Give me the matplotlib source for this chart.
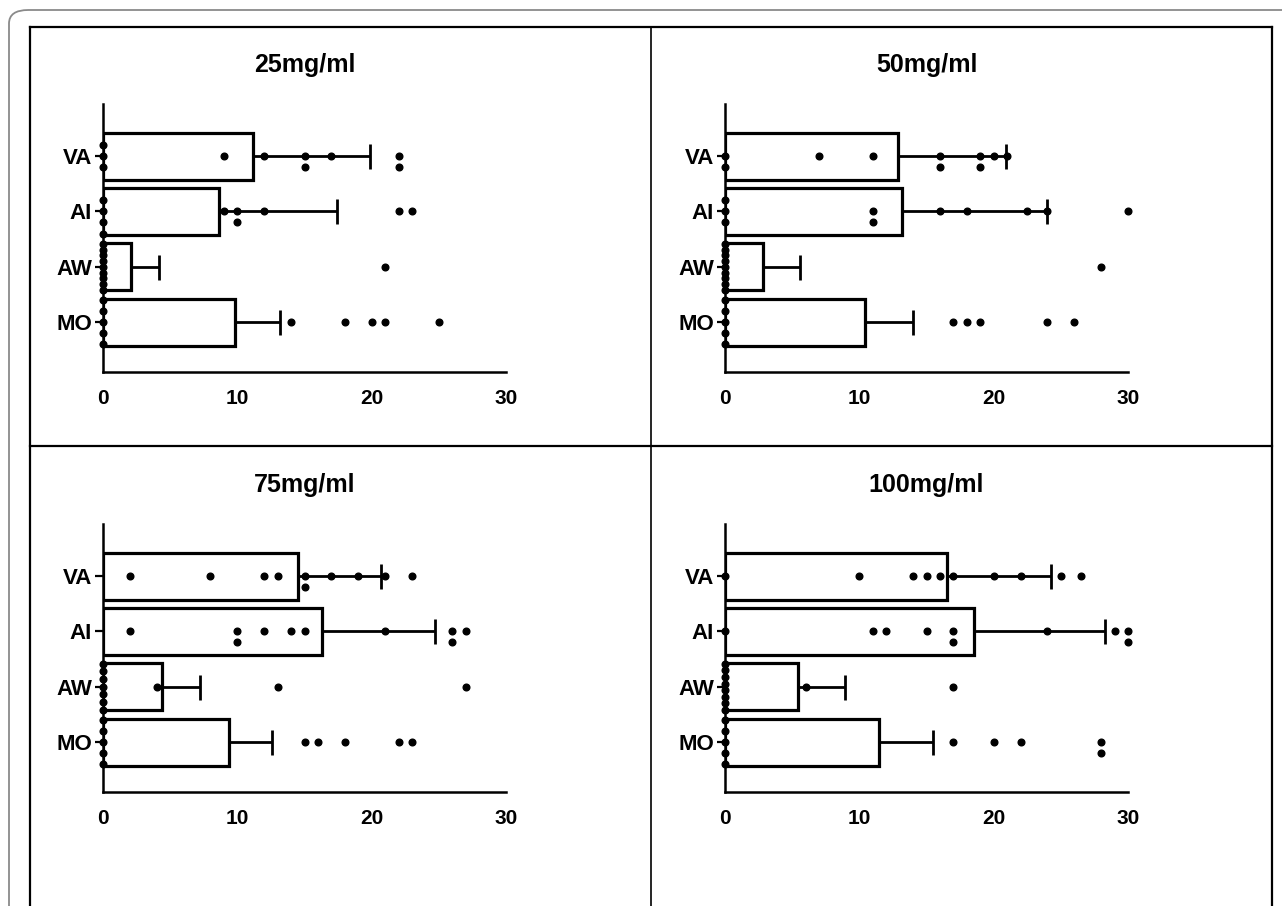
import matplotlib
matplotlib.use("Agg")
import matplotlib.pyplot as plt
import numpy as np
from matplotlib.lines import Line2D
from matplotlib.patches import FancyBboxPatch

plt.rcParams['font.family'] = ['Liberation Sans', 'DejaVu Sans']
plt.rcParams['font.weight'] = 'bold'

# categories, top to bottom
groups = ["VA", "AI", "AW", "MO"]
titles = ["25mg/ml", "50mg/ml", "75mg/ml", "100mg/ml"]

# individual points
va_25 = [0, 0, 0, 9, 12, 15, 15, 17, 22, 22]
ai_25 = [0, 0, 0, 0, 9, 10, 10, 12, 22, 23]
aw_25 = [0, 0, 0, 0, 0, 0, 0, 0, 0, 21]
mo_25 = [0, 0, 0, 0, 0, 14, 18, 20, 21, 25]

va_50 = [0, 0, 7, 11, 16, 16, 19, 19, 20, 21]
ai_50 = [0, 0, 0, 11, 11, 16, 18, 22.5, 24, 30]
aw_50 = [0, 0, 0, 0, 0, 0, 0, 0, 0, 28]
mo_50 = [0, 0, 0, 0, 0, 17, 18, 19, 24, 26]

va_75 = [2, 8, 12, 13, 15, 15, 17, 19, 21, 23]
ai_75 = [2, 10, 10, 12, 14, 15, 21, 26, 26, 27]
aw_75 = [0, 0, 0, 0, 0, 0, 0, 4, 13, 27]
mo_75 = [0, 0, 0, 0, 0, 15, 16, 18, 22, 23]

va_100 = [0, 10, 14, 15, 16, 17, 20, 22, 25, 26.5]
ai_100 = [0, 11, 12, 15, 17, 17, 24, 29, 30, 30]
aw_100 = [0, 0, 0, 0, 0, 0, 0, 0, 6, 17]
mo_100 = [0, 0, 0, 0, 0, 17, 20, 22, 28, 28]

# bar values and error bars (VA, AI, AW, MO)
bar_25 = [11.2, 8.6, 2.1, 9.8]
err_25 = [8.7, 8.8, 2.1, 3.4]
bar_50 = [12.9, 13.2, 2.8, 10.4]
err_50 = [8.0, 10.8, 2.8, 3.6]
bar_75 = [14.5, 16.3, 4.4, 9.4]
err_75 = [6.2, 8.4, 2.8, 3.2]
bar_100 = [16.5, 18.5, 5.4, 11.5]
err_100 = [7.8, 9.8, 3.5, 4.0]

points = [[va_25, ai_25, aw_25, mo_25],
          [va_50, ai_50, aw_50, mo_50],
          [va_75, ai_75, aw_75, mo_75],
          [va_100, ai_100, aw_100, mo_100]]
bars = [bar_25, bar_50, bar_75, bar_100]
errs = [err_25, err_50, err_75, err_100]


def swarm(vals, step=0.2, span=0.83):
    # stack equal values vertically, squeeze if too many
    vals = np.asarray(vals, float)
    off = np.zeros(len(vals))
    for v in np.unique(vals):
        idx = np.where(vals == v)[0]
        k = len(idx)
        if k == 1:
            continue
        s = min(step, span / (k - 1))
        if k % 2 == 1 or k > 4:
            rows = np.arange(k) - (k - 1) / 2
        else:
            rows = np.arange(k) - k / 2
        off[idx] = rows * s
    return off


W, H = 1282, 906
fig = plt.figure(figsize=(W / 100, H / 100), dpi=100)

lefts = [103, 725, 103, 725]
tops = [104, 104, 524, 524]
aw_px, ah_px = 403, 268

ypos = np.array([3, 2, 1, 0])
for i in range(4):
    ax = fig.add_axes([lefts[i] / W, 1 - (tops[i] + ah_px) / H, aw_px / W, ah_px / H])
    ax.barh(ypos, bars[i], height=0.85, color="white", edgecolor="black",
            linewidth=2.3, zorder=2)
    ax.errorbar(bars[i], ypos, xerr=[np.zeros(4), errs[i]], fmt="none",
                ecolor="black", elinewidth=2.0, capsize=9, capthick=2.0, zorder=3)
    for j in range(4):
        vals = points[i][j]
        ax.plot(vals, ypos[j] + swarm(vals), "o", color="black", ms=4.8,
                mec="black", zorder=4, clip_on=False)
    ax.set_xlim(0, 30)
    ax.set_ylim(-0.9, 3.94)
    ax.set_xticks([0, 10, 20, 30])
    ax.set_yticks(ypos)
    ax.set_yticklabels(groups)
    ax.tick_params(axis="x", length=0, pad=12, labelsize=15)
    ax.tick_params(axis="y", length=6, width=1.6, pad=2, labelsize=16)
    for sp in ["top", "right"]:
        ax.spines[sp].set_visible(False)
    ax.spines["left"].set_linewidth(1.8)
    ax.spines["bottom"].set_linewidth(1.8)
    ax.set_title(titles[i], fontsize=18, fontweight="bold", pad=23)

# table frame around the panels
fig.add_artist(FancyBboxPatch((9 / W, -0.05), 1.1, 1 - 10 / H + 0.05,
                              boxstyle="round,pad=0,rounding_size=0.015",
                              transform=fig.transFigure, fill=False,
                              edgecolor="#8a8a8a", linewidth=1.3))
lw = 1.6
fig.add_artist(Line2D([30 / W, 30 / W], [0, 1 - 27 / H], transform=fig.transFigure,
                      color="black", lw=lw))
fig.add_artist(Line2D([651 / W, 651 / W], [0, 1 - 27 / H], transform=fig.transFigure,
                      color="black", lw=1.2))
fig.add_artist(Line2D([1272 / W, 1272 / W], [0, 1 - 27 / H], transform=fig.transFigure,
                      color="black", lw=lw))
fig.add_artist(Line2D([30 / W, 1272 / W], [1 - 27 / H, 1 - 27 / H],
                      transform=fig.transFigure, color="black", lw=lw))
fig.add_artist(Line2D([30 / W, 1272 / W], [1 - 446 / H, 1 - 446 / H],
                      transform=fig.transFigure, color="black", lw=lw))

fig.savefig("out.png", dpi=100)
